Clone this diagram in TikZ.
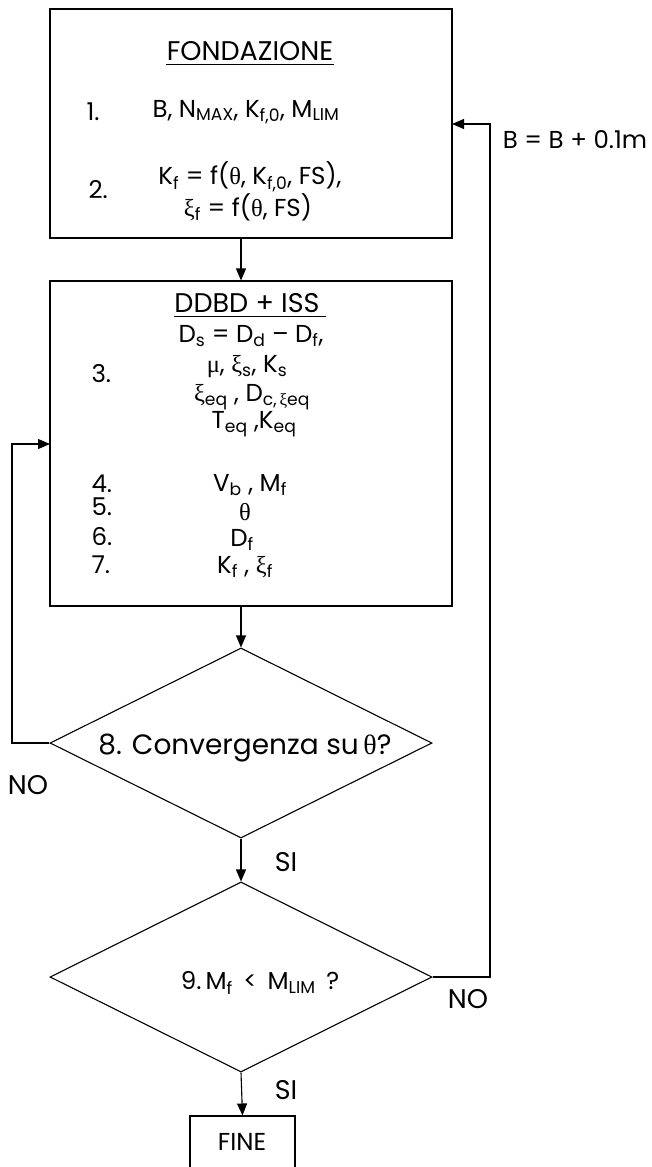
\documentclass[tikz,border=0pt]{standalone}
\usepackage{fontspec}
\setmainfont{Poppins}
\newfontfamily\greekfont{Liberation Serif}
\usetikzlibrary{shapes.geometric,arrows.meta}
\newcommand{\gr}[1]{{\greekfont #1}}
\newcommand{\dn}[1]{\textsubscript{#1}}
\begin{document}
\begin{tikzpicture}[x=1pt,y=-1pt,
  line width=1.1pt,
  box/.style={draw, rectangle, minimum width=402pt, inner sep=0pt},
  dec/.style={draw, diamond, minimum width=382pt, minimum height=190pt, inner sep=0pt},
  txt/.style={inner sep=0pt, font=\fontsize{24.5}{28}\selectfont},
  big/.style={inner sep=0pt, font=\fontsize{27}{30}\selectfont},
  arr/.style={-{Triangle[length=12pt,width=10pt]}},
  uline/.style={line width=1.1pt}]
\useasboundingbox (0,0) rectangle (651,1167);
\clip (0,0) rectangle (651,1167);
% shapes
\node[box, minimum height=229pt] (b1) at (251,123.5) {};
\node[box, minimum height=325pt] (b2) at (251,443.5) {};
\node[dec] (d1) at (241,743) {};
\node[dec] (d2) at (241,977) {};
\node[box, minimum width=105pt, minimum height=53pt] (fine) at (242.5,1142.5) {};
% box 1 text
\node[big] (t0) at (250,51) {FONDAZIONE};
\draw[uline] ([yshift=-3pt]t0.south west) -- ([yshift=-3pt]t0.south east);
\node[txt, anchor=west] (n1) at (86,112) {1.};
\node[txt] (t1) at (246,112) {B, N\dn{MAX}, K\dn{f,0}, M\dn{LIM}};
\node[txt, anchor=west] (n2) at (88,190) {2.};
\node[txt] (t2a) at (250,177) {K\dn{f} = f(\gr{θ}, K\dn{f,0}, FS),};
\node[txt] (t2b) at (248,207) {\gr{ξ}\dn{f} = f(\gr{θ}, FS)};
% box 2 text
\node[big] (t3) at (247,303) {DDBD + ISS};
\draw[uline] ([yshift=-3pt]t3.south west) -- ([yshift=-3pt,xshift=6pt]t3.south east);
\node[txt] (t3a) at (251,336) {D\dn{s} = D\dn{d} \textendash{} D\dn{f},};
\node[txt] (t3b) at (247,367) {\gr{μ}, \gr{ξ}\dn{s}, K\dn{s}};
\node[txt] (t3c) at (252,397) {\gr{ξ}\dn{eq} , D\dn{c,\,\gr{ξ}eq}};
\node[txt] (t3d) at (254,424) {T\dn{eq} ,K\dn{eq}};
\node[txt, anchor=west] (n3) at (91,374) {3.};
\node[txt] (t4) at (250,485) {V\dn{b} , M\dn{f}};
\node[txt] (t5) at (245,512) {\gr{θ}};
\node[txt] (t6) at (242,540) {D\dn{f}};
\node[txt] (t7) at (245,567) {K\dn{f} , \gr{ξ}\dn{f}};
\node[txt, anchor=west] (n4) at (91,484) {4.};
\node[txt, anchor=west] (n5) at (91,507) {5.};
\node[txt, anchor=west] (n6) at (91,537) {6.};
\node[txt, anchor=west] (n7) at (91,565) {7.};
% diamond texts
\node[inner sep=0pt, font=\fontsize{28}{32}\selectfont] (q8) at (245,748) {8. Convergenza su\,\gr{θ}?};
\node[txt] (q9) at (260,983) {9.\,M\dn{f} \,<\, M\dn{LIM} \,?};
\node[txt] (tfine) at (242,1142) {FINE};
% labels
\node[big] (no1) at (28,785) {NO};
\node[big] (si1) at (286,862) {SI};
\node[big] (no2) at (468,999) {NO};
\node[big] (si2) at (286,1090) {SI};
\node[txt] (inc) at (575,140) {B = B + 0.1m};
% connector helper coordinates
\coordinate (fb1) at (12,743);
\coordinate (in2) at (50,444);
\coordinate (fb2) at (490,977);
\coordinate (in1) at (452,124);
% connectors
\draw[arr] (d1.north |- b1.south) -- (d1.north |- b2.north);
\draw[arr] (d1.north |- b2.south) -- (d1.north);
\draw[arr] (d1.south) -- (d2.north);
\draw[arr] (d2.south) -- (fine.north);
\draw[arr] (d1.west) -- (fb1) |- (in2);
\draw[arr] (d2.east) -- (fb2) |- (in1);
\end{tikzpicture}
\end{document}
